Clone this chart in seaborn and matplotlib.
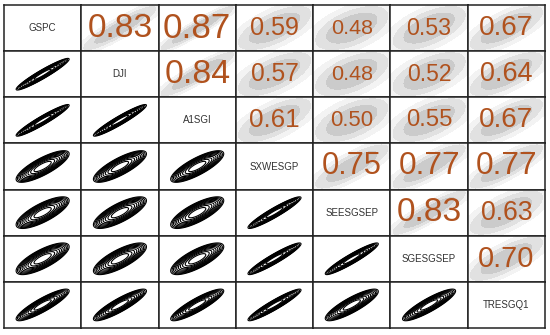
import numpy as np
import matplotlib
matplotlib.use("Agg")
import matplotlib.pyplot as plt
import seaborn as sns

sns.set_theme(style="white")
plt.rcParams['font.family'] = ['Liberation Sans', 'DejaVu Sans']

names = ["GSPC", "DJI", "A1SGI", "SXWESGP", "SEESGSEP", "SGESGSEP", "TRESGQ1"]

# upper-triangle correlations, row by row
corr_rows = [
    [0.83, 0.87, 0.59, 0.48, 0.53, 0.67],
    [0.84, 0.57, 0.48, 0.52, 0.64],
    [0.61, 0.50, 0.55, 0.67],
    [0.75, 0.77, 0.77],
    [0.83, 0.63],
    [0.70],
]

# apparent elongation of the density contours in the lower panels
contour_rows = [
    [0.95],
    [0.95, 0.95],
    [0.80, 0.80, 0.80],
    [0.76, 0.76, 0.76, 0.94],
    [0.76, 0.76, 0.76, 0.94, 0.94],
    [0.88, 0.88, 0.88, 0.94, 0.85, 0.88],
]

n = len(names)
W, H = 550, 335
fig, axes = plt.subplots(n, n, figsize=(W / 100, H / 100), dpi=100)
fig.subplots_adjust(left=4 / W, right=545 / W, top=1 - 5 / H, bottom=1 - 328 / H,
                    wspace=0, hspace=0)

g = np.linspace(-3, 3, 200)
X, Y = np.meshgrid(g, g)


def dens(rho):
    q = (X ** 2 + Y ** 2 - 2 * rho * X * Y) / (1 - rho ** 2)
    return np.exp(-q / 2)


txt_color = '#b0521e'

for i in range(n):
    for j in range(n):
        ax = axes[i, j]
        ax.set_xlim(-3, 3)
        ax.set_ylim(-3, 3)
        ax.set_xticks([])
        ax.set_yticks([])
        for s in ax.spines.values():
            s.set_visible(True)
            s.set_color('#222222')
            s.set_linewidth(1.1)
        if i == j:
            ax.text(0, 0, names[i], ha='center', va='center', fontsize=7,
                    color='#333333')
        elif j > i:
            r = corr_rows[i][j - i - 1]
            D = dens(min(r + 0.08, 0.95))
            ax.contourf(X, Y, D, levels=[0.001, 0.02, 0.15, 1.01],
                        colors=['#f3f3f3', '#e1e1e1', '#cbcbcb'])
            ax.text(0, 0, f"{r:.2f}", ha='center', va='center',
                    fontsize=24.9 * r + 3.5, color=txt_color)
        else:
            rho = contour_rows[i - 1][j]
            D = dens(rho)
            ax.contour(X, Y, D, levels=np.geomspace(0.12, 0.8, 10),
                       colors='black', linewidths=0.8)

fig.savefig("out.png", dpi=100)
